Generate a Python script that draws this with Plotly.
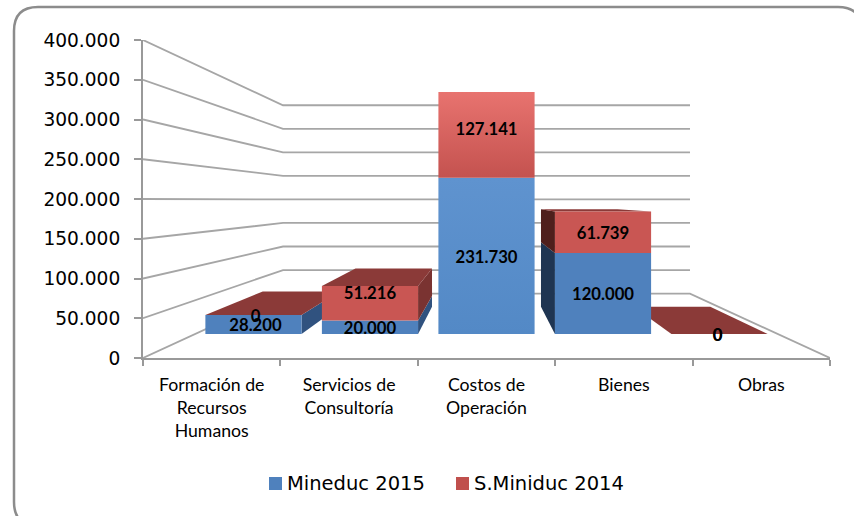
import plotly.graph_objects as go

# ---- data ----
categories = ["Formación de<br>Recursos<br>Humanos", "Servicios de<br>Consultoría", "Costos de<br>Operación", "Bienes", "Obras"]
mineduc_2015 = [28200, 20000, 231730, 120000, 0]
s_miniduc_2014 = [0, 51216, 127141, 61739, 0]
value_ticks = [0, 50000, 100000, 150000, 200000, 250000, 300000, 350000, 400000]

# ---- perspective of the 3-D chart, in axis units ----
VANISH_X = 2.5          # category units
VANISH_V = 198700       # value units
WALL_DEPTH = 0.5924
BAR_FRONT = 0.848
BAR_BACK = 0.675
HALF_BAR = 0.4127

BLUE, RED = "#4F81BD", "#C95653"
TOP_RED = "#8B3A38"
GRID = "#A6A6A6"
AXIS = "#999999"

W, H = 854, 516
L, R, T, B = 143, 830, 40, 358

# label placement offsets in pixels (right, down), per category: (blue label, red label)
LABEL_NUDGE = [((2, 2), (2, 3)), ((0, 3), (0, -8)), ((0, 3), (0, -4)), ((0, 2), (0, 3)), ((-2, 3), (-2, 3))]


def project(c, v, s):
    return VANISH_X + (c - VANISH_X) * s, VANISH_V + (v - VANISH_V) * s


fig = go.Figure()


def poly(points, color, gradient=None):
    xs, ys = zip(*[project(*p) for p in points])
    kw = dict(fillgradient=gradient) if gradient else dict(fillcolor=color)
    fig.add_trace(go.Scatter(x=list(xs) + [xs[0]], y=list(ys) + [ys[0]], mode="lines", fill="toself",
                             line=dict(width=0, color=color), showlegend=False, hoverinfo="skip", **kw))


# back wall and floor lines
for v in value_ticks:
    a = project(0, v, 1)
    b = project(0, v, WALL_DEPTH)
    c = project(5, v, WALL_DEPTH)
    pts = [a, b, c]
    if v == 0:
        pts.append(project(5, v, 1))
    fig.add_trace(go.Scatter(x=[p[0] for p in pts], y=[p[1] for p in pts], mode="lines",
                             line=dict(color=GRID, width=1.8), showlegend=False, hoverinfo="skip"))


def bar(i):
    lo, hi = i + 0.5 - HALF_BAR, i + 0.5 + HALF_BAR
    m, r = mineduc_2015[i], s_miniduc_2014[i]
    top = m + r
    # side facing the centre of the chart
    if i < 2:
        sx = hi
        side_blue, side_red = "#30527F", "#7A3331"
    elif i > 2:
        sx = lo
        side_blue, side_red = "#1F3552", "#4F1F1C"
    else:
        sx = None
    if sx is not None:
        if m > 0:
            poly([(sx, 0, BAR_FRONT), (sx, m, BAR_FRONT), (sx, m, BAR_BACK), (sx, 0, BAR_BACK)], side_blue)
        if r > 0:
            poly([(sx, m, BAR_FRONT), (sx, top, BAR_FRONT), (sx, top, BAR_BACK), (sx, m, BAR_BACK)], side_red)
        poly([(lo, top, BAR_FRONT), (hi, top, BAR_FRONT), (hi, top, BAR_BACK), (lo, top, BAR_BACK)], TOP_RED)
    # front faces
    if i == 2:
        bg = dict(type="vertical", colorscale=[[0, "#5389C6"], [1, "#5F93CF"]])
        rg = dict(type="vertical", colorscale=[[0, "#C4524F"], [1, "#E8736F"]])
    else:
        bg = rg = None
    if m > 0:
        poly([(lo, 0, BAR_FRONT), (hi, 0, BAR_FRONT), (hi, m, BAR_FRONT), (lo, m, BAR_FRONT)], BLUE, bg)
    if r > 0:
        poly([(lo, m, BAR_FRONT), (hi, m, BAR_FRONT), (hi, top, BAR_FRONT), (lo, top, BAR_FRONT)], RED, rg)


for i in [0, 4, 1, 3, 2]:
    bar(i)

# data labels
lx, ly, lt = [], [], []
for i in range(5):
    m, r = mineduc_2015[i], s_miniduc_2014[i]
    for (base, val), (dx, dy) in zip(((0, m), (m, r)), LABEL_NUDGE[i]):
        x, y = project(i + 0.5, base + val / 2, BAR_FRONT)
        lx.append(x + dx * 5 / (R - L))
        ly.append(y - dy * 400000 / (B - T))
        lt.append(f"{val:,}".replace(",", "."))
fig.add_trace(go.Scatter(x=lx, y=ly, text=lt, mode="text", textposition="middle center",
                         textfont=dict(family="Lato", size=16.7, color="#000000", weight="bold"),
                         showlegend=False, hoverinfo="skip"))


def px(x):
    return (x - L) / (R - L)


def py(y):
    return (B - y) / (B - T)


# legend: text entries with their swatches as squares placed beside them
legend_font = dict(family="DejaVu Sans", size=19.5, color="#000000")
swatches = []
for name, color, ref, text_x, sw_x in (("Mineduc 2015", "#4F81BD", "legend", 247, 269),
                                       ("S.Miniduc 2014", "#C0504D", "legend2", 434, 456)):
    fig.add_trace(go.Scatter(x=[None], y=[None], mode="markers", name=name, legend=ref, showlegend=True,
                             marker=dict(symbol="square", size=13, color="rgba(0,0,0,0)")))
    fig.update_layout({ref: dict(x=px(text_x), y=py(483), xanchor="left", yanchor="middle", font=legend_font,
                                 bgcolor="rgba(0,0,0,0)", itemclick=False, itemdoubleclick=False)})
    swatches.append(dict(type="rect", xref="paper", yref="paper", x0=px(sw_x), x1=px(sw_x + 13),
                         y0=py(490), y1=py(477), fillcolor=color, line=dict(width=0)))

x0, y0, x1, y1, rr = px(14), py(7), px(862), py(526), 24
rx, ry = rr / (R - L), rr / (B - T)
border = (f"M {x0},{y0 - ry} Q {x0},{y0} {x0 + rx},{y0} L {x1 - rx},{y0} Q {x1},{y0} {x1},{y0 - ry} "
          f"L {x1},{y1 + ry} Q {x1},{y1} {x1 - rx},{y1} L {x0 + rx},{y1} Q {x0},{y1} {x0},{y1 + ry} Z")

fig.update_layout(
    width=W, height=H, margin=dict(l=L, r=W - R, t=T, b=H - B, pad=0, autoexpand=False),
    paper_bgcolor="white", plot_bgcolor="white", separators=",.",
    xaxis=dict(range=[0, 5], tickmode="array", tickvals=[0.5, 1.5, 2.5, 3.5, 4.5], ticktext=categories,
               ticks="", showgrid=False, zeroline=False, showline=True, linecolor=AXIS, linewidth=2,
               tickangle=0, ticklabelstandoff=10, tickfont=dict(family="Lato", size=17.7, color="#000000"),
               minor=dict(tickmode="array", tickvals=[0, 1, 2, 3, 4, 5], ticks="outside", ticklen=6,
                          tickcolor=AXIS, tickwidth=1.5, showgrid=False)),
    yaxis=dict(range=[0, 400000], tickmode="array", tickvals=value_ticks, tickformat=",d", ticks="outside",
               ticklen=7, tickcolor=AXIS, tickwidth=1.5, showgrid=False, zeroline=False, showline=True,
               linecolor=AXIS, linewidth=2, ticklabelstandoff=10,
               tickfont=dict(family="DejaVu Sans", size=18.6, color="#000000")),
    shapes=swatches + [dict(type="path", xref="paper", yref="paper", path=border,
                            line=dict(color="#8C8C8C", width=2.5), fillcolor="rgba(0,0,0,0)", layer="above")],
)

fig.write_html("out.html", config={"displayModeBar": False}, post_script="document.body.style.margin='0';")
